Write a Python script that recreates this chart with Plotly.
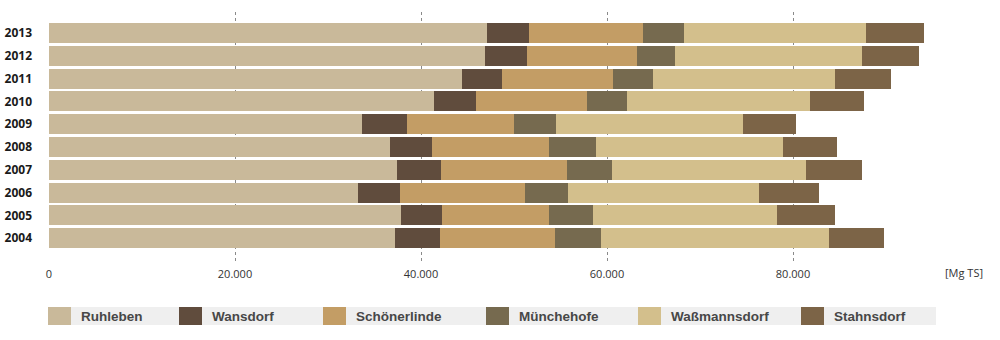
import plotly.graph_objects as go

# ---- data (Mg TS per plant and year) ----
years = ["2004", "2005", "2006", "2007", "2008", "2009", "2010", "2011", "2012", "2013"]
ruhleben = [37153, 37867, 33207, 37422, 36688, 33620, 41365, 44443, 46912, 47116]
wansdorf = [4934, 4398, 4542, 4758, 4532, 4833, 4508, 4240, 4447, 4518]
schoenerlinde = [12334, 11478, 13390, 13534, 12536, 11568, 12021, 12009, 11919, 12231]
muenchehofe = [4977, 4720, 4638, 4866, 5111, 4479, 4293, 4304, 3984, 4443]
wassmannsdorf = [24494, 19845, 20535, 20806, 20037, 20118, 19641, 19520, 20135, 19513]
stahnsdorf = [5908, 6192, 6461, 5984, 5816, 5661, 5824, 6056, 6107, 6271]
totals = [89800, 84500, 82773, 87370, 84720, 80279, 87652, 90572, 93504, 94092]
series_names = ["Ruhleben", "Wansdorf", "Schönerlinde", "Münchehofe", "Waßmannsdorf", "Stahnsdorf"]
x_ticks = [0, 20000, 40000, 60000, 80000]
unit_label = "[Mg TS]"

# ---- styles ----
colors = ["#C9B99A", "#604C3D", "#C39D65", "#766A4F", "#D3BF8C", "#7C6447"]
series_values = [ruhleben, wansdorf, schoenerlinde, muenchehofe, wassmannsdorf, stahnsdorf]

W, H = 1000, 340
ML, MR, MT, MB = 49, 64, 12, 76
PW, PH = W - ML - MR, H - MT - MB


def px_x(p):
    return (p - ML) / PW


def px_y(p):
    return (H - MB - p) / PH


fig = go.Figure()
for name, vals, col in zip(series_names, series_values, colors):
    fig.add_trace(go.Bar(
        y=years, x=vals, name=name, orientation="h",
        marker=dict(color=col, line=dict(width=0)),
        showlegend=False,
    ))

annotations = []
for yr, t in zip(years, totals):
    annotations.append(dict(
        x=px_x(948), xref="paper", y=yr, yref="y",
        text=f"{t:,}".replace(",", "."), showarrow=False,
        xanchor="left", yanchor="middle",
        font=dict(family="Open Sans", size=11.5, color="#2a2a2a"),
    ))
annotations.append(dict(
    x=px_x(985), xref="paper", y=px_y(272), yref="paper",
    text=unit_label, showarrow=False, xanchor="right", yanchor="middle",
    font=dict(family="Open Sans", size=11, color="#333333"),
))

# custom legend
shapes = [dict(type="rect", xref="paper", yref="paper",
               x0=px_x(48), x1=px_x(936), y0=px_y(325), y1=px_y(307),
               fillcolor="#EFEFEF", line=dict(width=0), layer="below")]
legend_swatch_x = [48, 179, 323, 486, 638, 801]
for name, col, sx in zip(series_names, colors, legend_swatch_x):
    shapes.append(dict(type="rect", xref="paper", yref="paper",
                       x0=px_x(sx), x1=px_x(sx + 23), y0=px_y(325), y1=px_y(307),
                       fillcolor=col, line=dict(width=0)))
    annotations.append(dict(
        x=px_x(sx + 31), xref="paper", y=px_y(316), yref="paper",
        text=name, showarrow=False, xanchor="left", yanchor="middle",
        font=dict(family="Liberation Sans", size=13.5, color="#474747", weight="bold"),
    ))

fig.update_layout(
    width=W, height=H,
    margin=dict(l=ML, r=MR, t=MT, b=MB, pad=0, autoexpand=False),
    barmode="stack", bargap=0.12,
    plot_bgcolor="white", paper_bgcolor="white",
    separators=",.",
    shapes=shapes, annotations=annotations,
    xaxis=dict(
        range=[0, PW / 0.0093], tickvals=x_ticks, tickformat=",d",
        showgrid=True, gridcolor="#8a8a8a", griddash="dot", gridwidth=1,
        zeroline=False, showline=False, ticks="", automargin=False,
        ticklabelstandoff=2,
        tickfont=dict(family="Open Sans", size=11, color="#333333"),
        fixedrange=True,
    ),
    yaxis=dict(
        type="category", categoryorder="array", categoryarray=years,
        range=[-1.13, 9.92], showgrid=False, zeroline=False, showline=False,
        ticks="", ticklabelstandoff=16, automargin=False,
        tickfont=dict(family="Open Sans", size=12, color="#1a1a1a", weight="bold"),
        fixedrange=True,
    ),
)

fig.write_html("out.html")
